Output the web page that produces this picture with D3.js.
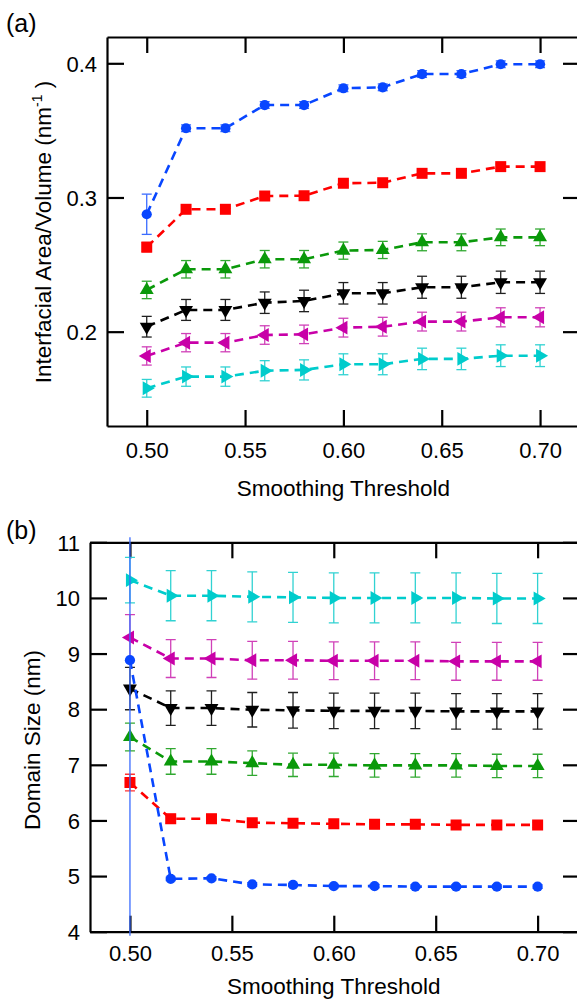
<!DOCTYPE html>
<html><head><meta charset="utf-8">
<script src="https://cdn.jsdelivr.net/npm/d3@7"></script>
<style>
body{margin:0;background:#fff;}
svg{display:block;font-family:"Liberation Sans",Arial,sans-serif;}
</style></head><body>
<svg id="c" width="577" height="1001"></svg>
<script>
// ---------- data ----------
const thresholds = [0.50,0.52,0.54,0.56,0.58,0.60,0.62,0.64,0.66,0.68,0.70];
const xTicks = [0.50,0.55,0.60,0.65,0.70];
const xTickLabels = ["0.50","0.55","0.60","0.65","0.70"];
const areaTicks = [0.2,0.3,0.4];
const areaTickLabels = ["0.2","0.3","0.4"];
const sizeTicks = [4,5,6,7,8,9,10,11];
const sizeTickLabels = ["4","5","6","7","8","9","10","11"];

const seriesNames = ["blue","red","green","black","magenta","cyan"];
const seriesColors = ["#0846ff","#ff0000","#0a990a","#000000","#c800a8","#00cccc"];
const errColors    = ["#3a6cff","#ff3030","#30a830","#202020","#d040b8","#30d2d2"];
const seriesShapes = ["circle","square","up","down","left","right"];

// (a) Interfacial Area/Volume
const areaBlue    = [0.2875,0.3516,0.3516,0.3689,0.3689,0.3814,0.3821,0.3920,0.3920,0.3993,0.3993];
const areaBlueErr = [0.0150,0.0025,0.0025,0.0025,0.0025,0.0025,0.0025,0.0025,0.0025,0.0025,0.0025];
const areaRed     = [0.2630,0.2912,0.2912,0.3011,0.3013,0.3106,0.3110,0.3180,0.3180,0.3230,0.3230];
const areaRedErr  = [0.0035,0.0020,0.0020,0.0020,0.0020,0.0020,0.0020,0.0020,0.0020,0.0020,0.0020];
const areaGreen   = [0.2311,0.2465,0.2465,0.2540,0.2540,0.2604,0.2609,0.2666,0.2666,0.2703,0.2703];
const areaGreenErr= [0.0065,0.0065,0.0065,0.0065,0.0065,0.0064,0.0064,0.0063,0.0063,0.0062,0.0062];
const areaBlack   = [0.2037,0.2162,0.2162,0.2216,0.2229,0.2286,0.2286,0.2331,0.2331,0.2368,0.2368];
const areaBlackErr= [0.0077,0.0078,0.0078,0.0080,0.0080,0.0080,0.0080,0.0082,0.0082,0.0083,0.0083];
const areaMagenta = [0.1819,0.1918,0.1918,0.1975,0.1980,0.2030,0.2037,0.2075,0.2075,0.2107,0.2107];
const areaMagentaErr=[0.0068,0.0068,0.0068,0.0069,0.0069,0.0070,0.0070,0.0070,0.0070,0.0071,0.0071];
const areaCyan    = [0.1578,0.1665,0.1665,0.1709,0.1715,0.1757,0.1757,0.1797,0.1797,0.1821,0.1821];
const areaCyanErr = [0.0066,0.0072,0.0072,0.0075,0.0075,0.0078,0.0078,0.0080,0.0080,0.0081,0.0081];

// (b) Domain Size
const sizeBlue    = [8.88,4.95,4.96,4.85,4.84,4.82,4.82,4.81,4.81,4.81,4.81];
const sizeBlueErr = [5.00,0.03,0.03,0.03,0.03,0.03,0.03,0.03,0.03,0.03,0.03];
const sizeRed     = [6.68,6.03,6.03,5.96,5.95,5.94,5.93,5.93,5.92,5.92,5.92];
const sizeRedErr  = [0.15,0.08,0.08,0.05,0.05,0.05,0.05,0.05,0.05,0.05,0.05];
const sizeGreen   = [7.50,7.06,7.06,7.03,7.00,7.00,6.99,6.99,6.99,6.98,6.98];
const sizeGreenErr= [0.25,0.23,0.23,0.22,0.21,0.21,0.21,0.21,0.21,0.21,0.21];
const sizeBlack   = [8.37,8.02,8.02,7.99,7.98,7.97,7.97,7.97,7.96,7.96,7.96];
const sizeBlackErr= [0.38,0.31,0.31,0.31,0.32,0.32,0.32,0.32,0.32,0.32,0.32];
const sizeMagenta = [9.29,8.91,8.91,8.88,8.88,8.87,8.87,8.87,8.86,8.86,8.86];
const sizeMagentaErr=[0.41,0.34,0.34,0.34,0.34,0.34,0.34,0.34,0.34,0.34,0.34];
const sizeCyan    = [10.32,10.04,10.04,10.02,10.01,10.00,10.00,10.00,10.00,9.99,9.99];
const sizeCyanErr = [0.41,0.45,0.45,0.45,0.45,0.45,0.45,0.45,0.45,0.45,0.45];

const areaSeries = [[areaBlue,areaBlueErr],[areaRed,areaRedErr],[areaGreen,areaGreenErr],[areaBlack,areaBlackErr],[areaMagenta,areaMagentaErr],[areaCyan,areaCyanErr]];
const sizeSeries = [[sizeBlue,sizeBlueErr],[sizeRed,sizeRedErr],[sizeGreen,sizeGreenErr],[sizeBlack,sizeBlackErr],[sizeMagenta,sizeMagentaErr],[sizeCyan,sizeCyanErr]];

// ---------- drawing ----------
const svg = d3.select("#c");
const FS = 22;

function shapePath(shape){
  if(shape==="circle") return d3.symbol(d3.symbolCircle, 82)();
  if(shape==="square") return d3.symbol(d3.symbolSquare, 121)();
  return d3.symbol(d3.symbolTriangle, 84)();
}
function shapeRot(shape){
  return {up:0,down:180,left:-90,right:90}[shape]||0;
}

function panel(cfg){
  const g = svg.append("g");
  const x = d3.scaleLinear().domain(cfg.xDomain).range(cfg.xRange);
  const y = d3.scaleLinear().domain(cfg.yDomain).range(cfg.yRange);
  const [L,R] = cfg.xRange, [B,T] = cfg.yRange;

  const clipId = "clip"+cfg.id;
  svg.append("clipPath").attr("id",clipId).append("rect")
    .attr("x",L).attr("y",T-5).attr("width",R-L).attr("height",B-T+9);

  const styleAxis = sel=>{
    sel.selectAll("path.domain").attr("stroke","#000").attr("stroke-width",2.2);
    sel.selectAll(".tick line").attr("stroke","#000").attr("stroke-width",2.2);
    sel.selectAll(".tick text").attr("font-size",FS).attr("fill","#000").attr("font-family","Liberation Sans, Arial, sans-serif");
  };
  g.append("g").attr("class","xb").attr("transform",`translate(0,${B})`)
    .call(d3.axisBottom(x).tickValues(xTicks).tickFormat((d,i)=>xTickLabels[i]).tickSize(-16).tickSizeOuter(0).tickPadding(cfg.xPad))
    .call(styleAxis);
  g.append("g").attr("transform",`translate(0,${T})`)
    .call(d3.axisTop(x).tickValues(xTicks).tickFormat("").tickSize(-16).tickSizeOuter(0))
    .call(styleAxis);
  g.append("g").attr("class","yl").attr("transform",`translate(${L},0)`)
    .call(d3.axisLeft(y).tickValues(cfg.yTicks).tickFormat((d,i)=>cfg.yLabels[i]).tickSize(-17).tickSizeOuter(0).tickPadding(10))
    .call(styleAxis);
  g.append("g").attr("transform",`translate(${R},0)`)
    .call(d3.axisRight(y).tickValues(cfg.yTicks).tickFormat("").tickSize(-16).tickSizeOuter(0))
    .call(styleAxis);
  g.selectAll(".xb .tick text").attr("dy","0.71em");
  g.selectAll(".yl .tick text").attr("dy","0.35em");

  const plot = g.append("g").attr("clip-path",`url(#${clipId})`);
  for(let s=cfg.series.length-1;s>=0;s--){
    const [vals,errs] = cfg.series[s];
    const pts = thresholds.map((t,i)=>({x:t,y:vals[i],e:errs[i]}));
    const sg = plot.append("g");
    sg.append("path").datum(pts)
      .attr("d",d3.line().x(d=>x(d.x)).y(d=>y(d.y)))
      .attr("fill","none").attr("stroke",seriesColors[s]).attr("stroke-width",2.6)
      .attr("stroke-dasharray","9,6");
    const eb = sg.append("g").attr("stroke",errColors[s]).attr("stroke-width",1.3);
    pts.forEach(d=>{
      const cx=x(d.x), y1=y(d.y+d.e), y2=y(d.y-d.e);
      eb.append("line").attr("x1",cx).attr("x2",cx).attr("y1",y1).attr("y2",y2);
      eb.append("line").attr("x1",cx-5).attr("x2",cx+5).attr("y1",y1).attr("y2",y1);
      eb.append("line").attr("x1",cx-5).attr("x2",cx+5).attr("y1",y2).attr("y2",y2);
    });
    sg.selectAll("path.m").data(pts).enter().append("path").attr("class","m")
      .attr("d",shapePath(seriesShapes[s]))
      .attr("transform",d=>`translate(${x(d.x)},${y(d.y)}) rotate(${shapeRot(seriesShapes[s])})`)
      .attr("fill",seriesColors[s]);
  }

  g.append("text").attr("x",(x(0.5)+x(0.7))/2).attr("y",cfg.xTitleY)
    .attr("text-anchor","middle").attr("font-size",FS+0.5).text("Smoothing Threshold");
  const yt = g.append("text").attr("transform",`translate(${cfg.yTitleX},${cfg.yTitleY}) rotate(-90)`)
    .attr("text-anchor","middle").attr("font-size",FS+0.5);
  cfg.yTitle(yt);
  g.append("text").attr("x",6).attr("y",cfg.labelY).attr("font-size",25).text(cfg.label);
}

panel({
  id:"a", xDomain:[0.4798,0.7198], xRange:[107,579],
  yDomain:[0.1297,0.4196], yRange:[426,37],
  yTicks:areaTicks, yLabels:areaTickLabels, series:areaSeries,
  xPad:16, xTitleY:496, yTitleX:51, yTitleY:232, labelY:32, label:"(a)",
  yTitle:t=>{ t.append("tspan").text("Interfacial Area/Volume (nm");
              t.append("tspan").attr("dy",-9).attr("font-size",14).text("-1");
              t.append("tspan").attr("dy",9).text(" )"); }
});
panel({
  id:"b", xDomain:[0.4804,0.7203], xRange:[90,579],
  yDomain:[4,11], yRange:[931.7,542.3],
  yTicks:sizeTicks, yLabels:sizeTickLabels, series:sizeSeries,
  xPad:14, xTitleY:994, yTitleX:40, yTitleY:740, labelY:539, label:"(b)",
  yTitle:t=>{ t.text("Domain Size (nm)"); }
});
</script>
</body></html>
